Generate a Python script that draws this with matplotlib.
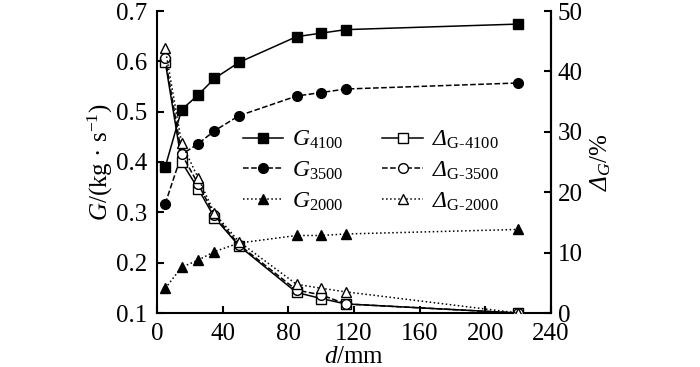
import matplotlib
matplotlib.use("Agg")
import matplotlib.pyplot as plt

plt.rcParams['font.family'] = ['Liberation Serif', 'DejaVu Serif']
plt.rcParams['mathtext.fontset'] = 'custom'
plt.rcParams['mathtext.rm'] = 'Liberation Serif'
plt.rcParams['mathtext.it'] = 'Liberation Serif:italic'
plt.rcParams['mathtext.sf'] = 'Liberation Serif:italic'
plt.rcParams['mathtext.bf'] = 'Liberation Serif:bold'

# Data
d = [5, 15, 25, 35, 50, 85, 100, 115, 220]
G4100 = [0.39, 0.504, 0.533, 0.566, 0.598, 0.649, 0.656, 0.663, 0.674]
G3500 = [0.317, 0.415, 0.436, 0.462, 0.492, 0.531, 0.538, 0.545, 0.557]
G2000 = [0.149, 0.191, 0.205, 0.222, 0.239, 0.254, 0.254, 0.257, 0.266]
D4100 = [41.6, 25.0, 20.6, 15.8, 11.1, 3.4, 2.4, 1.5, 0.0]
D3500 = [42.3, 26.3, 21.4, 16.2, 11.3, 3.8, 3.0, 1.5, 0.0]
D2000 = [43.8, 28.1, 22.4, 16.5, 11.8, 4.75, 4.1, 3.5, 0.0]

xticks = [0, 40, 80, 120, 160, 200, 240]
lyticks = [0.1, 0.2, 0.3, 0.4, 0.5, 0.6, 0.7]
ryticks = [0, 10, 20, 30, 40, 50]

fig = plt.figure(figsize=(7, 3.67), dpi=100)
ax = fig.add_axes([157/700, 1 - 313/367, (551-157)/700, (313-11)/367])
ax2 = ax.twinx()

fs = 18
lfs = 17
ms = 7
lw = 1.1

h1, = ax.plot(d, G4100, '-', color='black', marker='s', ms=ms, lw=lw, label=r'$G_{4100}$')
h2, = ax.plot(d, G3500, '--', color='black', marker='o', ms=ms, lw=lw, label=r'$G_{3500}$')
h3, = ax.plot(d, G2000, ':', color='black', marker='^', ms=ms, lw=lw, label=r'$G_{2000}$')
h4, = ax2.plot(d, D4100, '-', color='black', marker='s', ms=ms, mfc='white', lw=lw,
               label=r'$\mathsf{\Delta}_{\text{G-4100}}$')
h5, = ax2.plot(d, D3500, '--', color='black', marker='o', ms=ms, mfc='white', lw=lw,
               label=r'$\mathsf{\Delta}_{\text{G-3500}}$')
h6, = ax2.plot(d, D2000, ':', color='black', marker='^', ms=ms, mfc='white', lw=lw,
               label=r'$\mathsf{\Delta}_{\text{G-2000}}$')

ax.set_xlim(0, 240)
ax.set_ylim(0.1, 0.7)
ax2.set_ylim(0, 50)
ax.set_xticks(xticks)
ax.set_yticks(lyticks)
ax2.set_yticks(ryticks)
ax.set_yticklabels([f'{v:.1f}' for v in lyticks])

for a in (ax, ax2):
    a.spines['top'].set_visible(False)
    for s in a.spines.values():
        s.set_linewidth(1.5)
    a.tick_params(direction='in', length=5, width=1.5, labelsize=fs)
ax.tick_params(axis='y', pad=7)
ax.tick_params(axis='x', pad=7)
ax2.tick_params(axis='y', pad=5)
ax2.spines['left'].set_visible(False)
ax2.spines['bottom'].set_visible(False)

ax.set_xlabel(r'$d$/mm', fontsize=fs, labelpad=1)
ax.set_ylabel('$G$/(kg · s$^{-1}$)', fontsize=fs, labelpad=1)
ax2.set_ylabel(r'$\mathsf{\Delta}_{G}$/%', fontsize=fs, labelpad=4)

leg = ax.legend(handles=[h1, h2, h3, h4, h5, h6], ncol=2, fontsize=lfs,
                frameon=False, loc='upper left', bbox_to_anchor=(0.218, 0.61),
                handlelength=1.7, columnspacing=1.65, labelspacing=0.36,
                handletextpad=0.38, borderpad=0, borderaxespad=0)

fig.savefig('out.png', dpi=100)
